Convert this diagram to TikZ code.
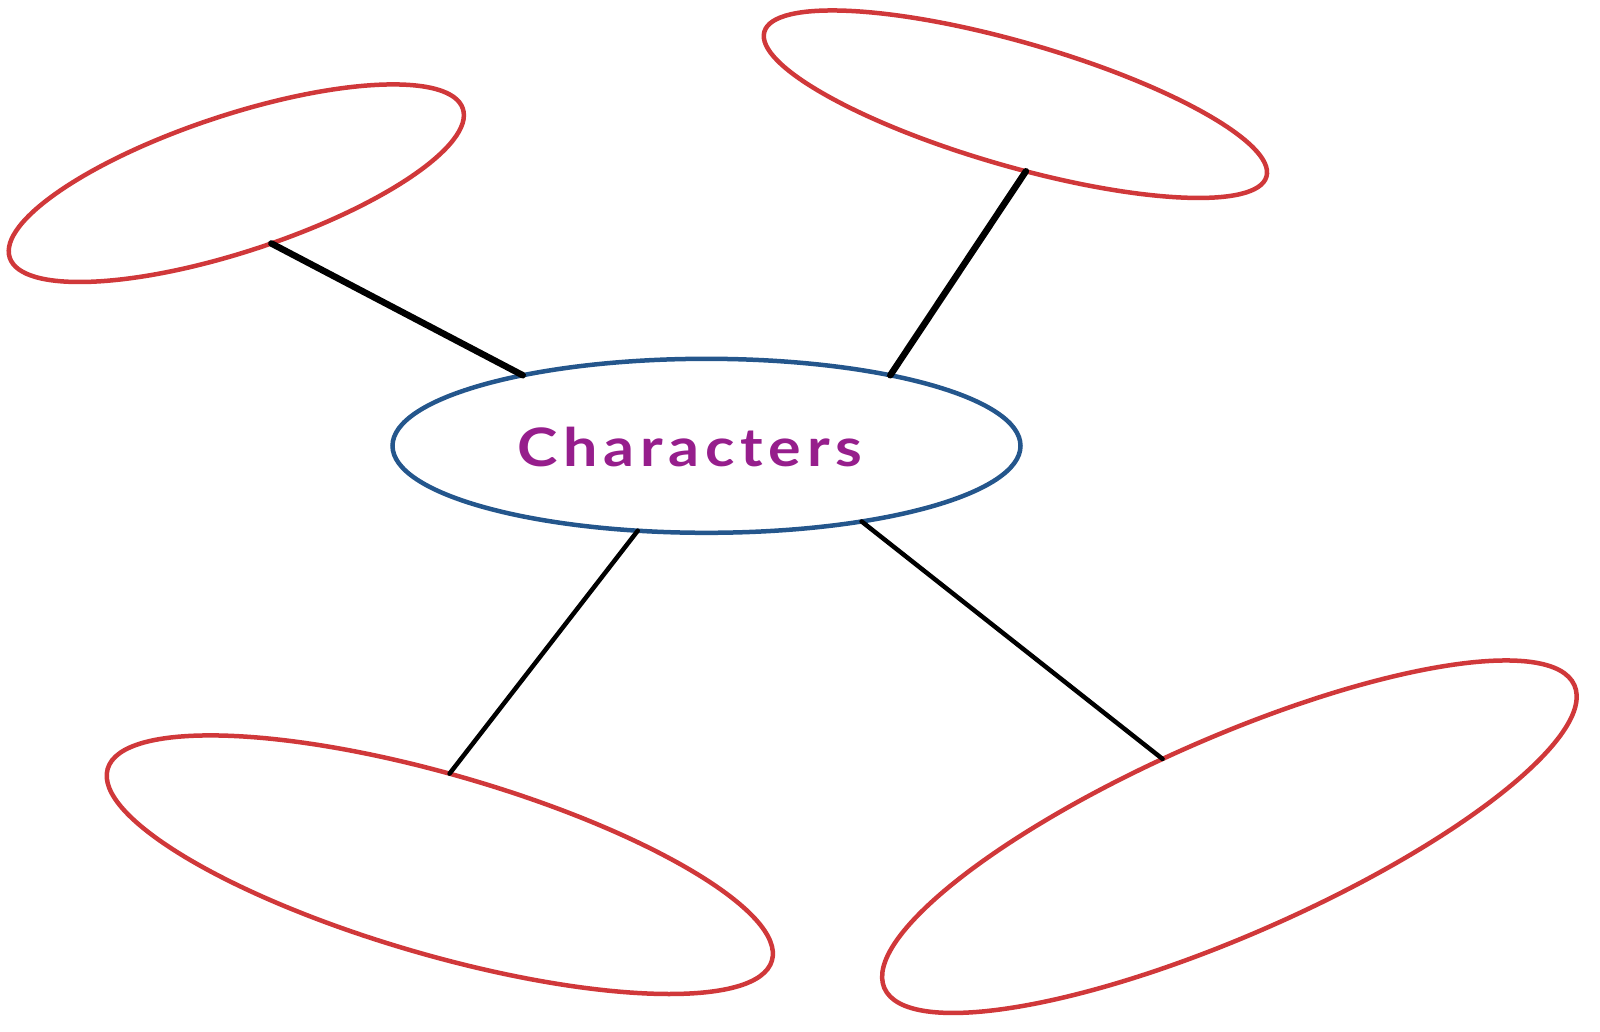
\documentclass[tikz,border=0pt]{standalone}
\usepackage{fontspec}
\newfontfamily\handfont{Lato}
\usetikzlibrary{shapes.geometric}
\definecolor{ovalred}{RGB}{208,56,58}
\definecolor{ovalblue}{RGB}{36,86,140}
\definecolor{inkpurple}{RGB}{150,30,140}
\tikzset{
  oval/.style={ellipse, draw=ovalred, line width=4.5pt, inner sep=0pt, outer sep=0pt},
  mainoval/.style={ellipse, draw=ovalblue, line width=4.5pt, inner sep=0pt, outer sep=0pt},
  thicklink/.style={draw=black, line width=6.5pt, line cap=round},
  thinlink/.style={draw=black, line width=4.5pt, line cap=round},
  handtext/.style={text=inkpurple, font=\handfont\bfseries\fontsize{53}{53}\selectfont, inner sep=0pt, anchor=base west, xscale=1.15, transform shape}
}
\begin{document}
\begin{tikzpicture}[x=1pt,y=-1pt]
\useasboundingbox (0,0) rectangle (1600,1031);
\node[mainoval, minimum width=628pt, minimum height=174pt] (c) at (706.5,445.8) {};
\node[handtext] (lbl) at (517,466) {\makebox[300pt]{C\hfill h\hfill a\hfill r\hfill a\hfill c\hfill t\hfill e\hfill r\hfill s}};
\node[oval, minimum width=477pt, minimum height=136.6pt, rotate=18.2] (tl) at (236.3,183.2) {};
\node[oval, minimum width=522.6pt, minimum height=123.8pt, rotate=-16.1] (tr) at (1015.4,104.2) {};
\node[oval, minimum width=691.4pt, minimum height=180.6pt, rotate=-16.1] (bl) at (439.8,864.7) {};
\node[oval, minimum width=753.6pt, minimum height=196.8pt, rotate=23.7] (br) at (1229.4,836.7) {};
\draw[thicklink] (tl.-78.4) -- (c.159.5);
\draw[thicklink] (tr.-65.4) -- (c.21.4);
\draw[thinlink] (bl.100) -- (c.-129.7);
\draw[thinlink] (br.107.8) -- (c.-26.5);
\end{tikzpicture}
\end{document}
